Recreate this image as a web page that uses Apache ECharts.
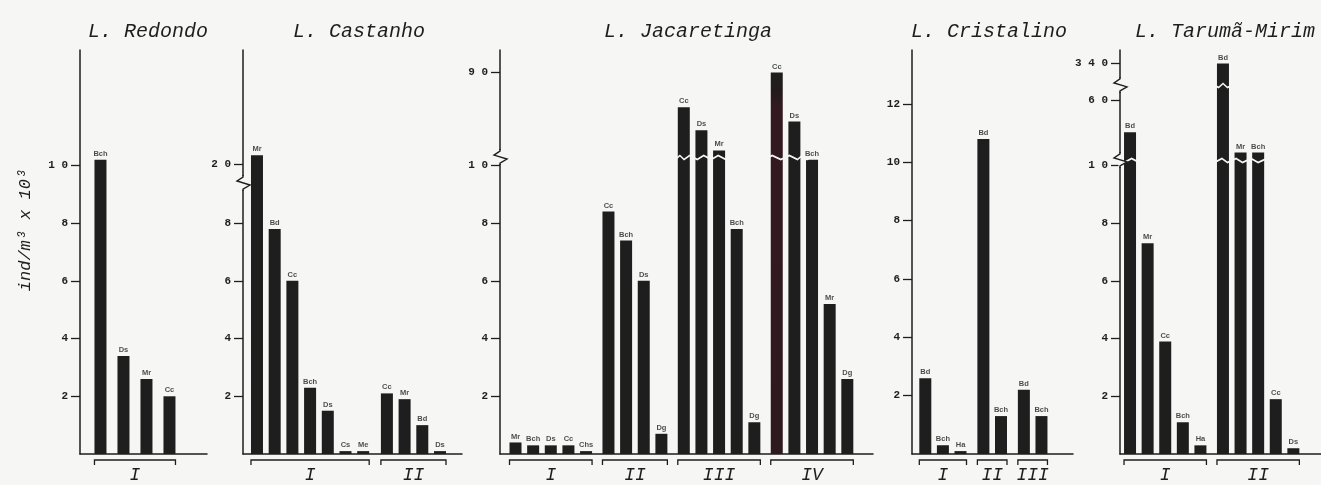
<!DOCTYPE html>
<html><head><meta charset="utf-8">
<script src="https://cdn.jsdelivr.net/npm/echarts@6/dist/echarts.min.js"></script>
<style>html,body{margin:0;padding:0;background:#f6f6f4}#c{width:1321px;height:485px}</style>
</head><body><div id="c"></div>
<script>
// ---------------- DATA ----------------
const redondoGroups = ['I'];
const redondoSpecies = [['Bch', 'Ds', 'Mr', 'Cc']];
const redondoValues = [[10.2, 3.4, 2.6, 2.0]];
const redondoTicks = [2, 4, 6, 8, 10];
const redondoTickLabels = ['2', '4', '6', '8', '1 0'];
const redondoBreaks = [];

const castanhoGroups = ['I', 'II'];
const castanhoSpecies = [['Mr', 'Bd', 'Cc', 'Bch', 'Ds', 'Cs', 'Me'], ['Cc', 'Mr', 'Bd', 'Ds']];
const castanhoValues = [[20.3, 7.8, 6.0, 2.3, 1.5, 0.1, 0.1], [2.1, 1.9, 1.0, 0.1]];
const castanhoTicks = [2, 4, 6, 8, 20];
const castanhoTickLabels = ['2', '4', '6', '8', '2 0'];
const castanhoBreaks = [[9.35, 19.38]];

const jacaretingaGroups = ['I', 'II', 'III', 'IV'];
const jacaretingaSpecies = [['Mr', 'Bch', 'Ds', 'Cc', 'Chs'], ['Cc', 'Bch', 'Ds', 'Dg'], ['Cc', 'Ds', 'Mr', 'Bch', 'Dg'], ['Cc', 'Ds', 'Bch', 'Mr', 'Dg']];
const jacaretingaValues = [[0.4, 0.3, 0.3, 0.3, 0.1], [8.4, 7.4, 6.0, 0.7], [88.8, 88.0, 87.3, 7.8, 1.1], [90.0, 88.3, 10.2, 5.2, 2.6]];
const jacaretingaTicks = [2, 4, 6, 8, 10, 90];
const jacaretingaTickLabels = ['2', '4', '6', '8', '1 0', '9 0'];
const jacaretingaBreaks = [[10.25, 87.11]];

const cristalinoGroups = ['I', 'II', 'III'];
const cristalinoSpecies = [['Bd', 'Bch', 'Ha'], ['Bd', 'Bch'], ['Bd', 'Bch']];
const cristalinoValues = [[2.6, 0.3, 0.1], [10.8, 1.3], [2.2, 1.3]];
const cristalinoTicks = [2, 4, 6, 8, 10, 12];
const cristalinoTickLabels = ['2', '4', '6', '8', '10', '12'];
const cristalinoBreaks = [];

const tarumaGroups = ['I', 'II'];
const tarumaSpecies = [['Bd', 'Mr', 'Cc', 'Bch', 'Ha'], ['Bd', 'Mr', 'Bch', 'Cc', 'Ds']];
const tarumaValues = [[58.9, 7.3, 3.9, 1.1, 0.3], [340.0, 58.2, 58.2, 1.9, 0.2]];
const tarumaTicks = [2, 4, 6, 8, 10, 60, 340];
const tarumaTickLabels = ['2', '4', '6', '8', '1 0', '6 0', '3 4 0'];
const tarumaBreaks = [[10.15, 57.98], [60.5, 339.30]];

const yAxisTitle = 'ind/m³ x 10³';

// ---------------- LAYOUT / STYLE ----------------
const BG = '#f6f6f4';
const INK = '#1e1e1e';
const MONO = '"Liberation Mono", "DejaVu Sans Mono", monospace';
const GAP = 0.08;
const TOP = 50, BASE = 454;

const panels = [
  { title: 'L. Redondo', titleX: 143, groups: redondoGroups, species: redondoSpecies, values: redondoValues,
    ticks: redondoTicks, tickLabels: redondoTickLabels, breaks: redondoBreaks, max: 14,
    left: 80, right: 207, slot: 23, first: 0.89, gap: 0, cut: false },
  { title: 'L. Castanho', titleX: 354, groups: castanhoGroups, species: castanhoSpecies, values: castanhoValues,
    ticks: castanhoTicks, tickLabels: castanhoTickLabels, breaks: castanhoBreaks, max: 23.95,
    left: 243, right: 462, slot: 17.7, first: 0.79, gap: 0.34, cut: false },
  { title: 'L. Jacaretinga', titleX: 683, groups: jacaretingaGroups, species: jacaretingaSpecies, values: jacaretingaValues,
    ticks: jacaretingaTicks, tickLabels: jacaretingaTickLabels, breaks: jacaretingaBreaks, max: 90.78,
    left: 500, right: 873, slot: 17.64, first: 0.879, gap: 0.27, cut: true },
  { title: 'L. Cristalino', titleX: 984, groups: cristalinoGroups, species: cristalinoSpecies, values: cristalinoValues,
    ticks: cristalinoTicks, tickLabels: cristalinoTickLabels, breaks: cristalinoBreaks, max: 13.85,
    left: 912, right: 1073, slot: 17.6, first: 0.756, gap: 0.3, cut: false },
  { title: 'L. Tarumã-Mirim', titleX: 1220, groups: tarumaGroups, species: tarumaSpecies, values: tarumaValues,
    ticks: tarumaTicks, tickLabels: tarumaTickLabels, breaks: tarumaBreaks, max: 340.47,
    left: 1120, right: 1321, slot: 17.6, first: 0.57, gap: 0.28, cut: true }
];

const grid = [], xAxis = [], yAxis = [], series = [], title = [];

panels.forEach((p, pi) => {
  grid.push({ left: p.left, width: p.right - p.left, top: TOP, height: BASE - TOP });
  title.push({ text: p.title, left: p.titleX, top: 17, textAlign: 'center',
    textStyle: { fontFamily: MONO, fontStyle: 'italic', fontWeight: 'normal', fontSize: 20, color: INK } });

  const data = [], names = [], ranges = [];
  let x = p.first;
  p.species.forEach((grp, gi) => {
    const start = x;
    grp.forEach((nm, i) => {
      const item = { value: [x, p.values[gi][i]] };
      // scan tint on the tallest Jacaretinga bar
      if (pi === 2 && gi === 3 && i === 0) {
        item.itemStyle = { color: { type: 'linear', x: 0, y: 0, x2: 0, y2: 1, colorStops: [
          { offset: 0, color: INK }, { offset: 0.05, color: '#241a1c' }, { offset: 0.09, color: '#341a20' }, { offset: 1, color: '#2e191e' }] } };
      }
      data.push(item); names.push(nm);
      x += 1;
    });
    ranges.push([start, x - 1, 0, gi]);
    x += p.gap;
  });

  xAxis.push({ type: 'value', gridIndex: pi, min: 0, max: (p.right - p.left) / p.slot,
    axisLine: { show: true, onZero: false, lineStyle: { color: INK, width: 1.5 } },
    axisTick: { show: false }, axisLabel: { show: false }, splitLine: { show: false } });

  const ya = { type: 'value', gridIndex: pi, min: 0, max: p.max,
    axisLine: { show: true, lineStyle: { color: INK, width: 1.5 } },
    axisTick: { show: true, length: 9, customValues: p.ticks, lineStyle: { color: INK, width: 1.3 } },
    axisLabel: { show: true, customValues: p.ticks, margin: 12, fontFamily: MONO, fontSize: 11, fontWeight: 'bold', color: INK,
      formatter: v => { const k = p.ticks.indexOf(v); return k >= 0 ? p.tickLabels[k] : ''; } },
    splitLine: { show: false } };
  if (p.breaks.length) {
    ya.breaks = p.breaks.map(b => ({ start: b[0], end: b[1], gap: GAP }));
    ya.breakArea = { show: true, itemStyle: { color: BG, borderColor: BG, borderWidth: 0, opacity: p.cut ? 1 : 0 },
      zigzagAmplitude: 2, zigzagMinSpan: 4, zigzagMaxSpan: 9, zigzagZ: 100, expandOnClick: false };
  }
  if (pi === 0) {
    ya.name = yAxisTitle; ya.nameLocation = 'middle'; ya.nameRotate = 90; ya.nameGap = 46;
    ya.nameTextStyle = { fontFamily: MONO, fontStyle: 'italic', fontSize: 17, color: INK, padding: [0, 0, 0, 44] };
  }
  yAxis.push(ya);

  series.push({ type: 'bar', xAxisIndex: pi, yAxisIndex: pi, barWidth: 12, data: data,
    itemStyle: { color: INK }, silent: true, label: { show: false } });

  // species codes above the bars, kept above the break band
  series.push({ type: 'scatter', xAxisIndex: pi, yAxisIndex: pi, symbolSize: 0, silent: true, z: 200,
    data: data.map(d => d.value),
    label: { show: true, position: 'top', distance: 2, fontFamily: '"Liberation Sans", Arial, sans-serif', fontSize: 7.5, fontWeight: 'bold', color: INK,
      formatter: prm => names[prm.dataIndex] } });

  // group brackets under the axis
  const half = 6;
  series.push({ type: 'custom', xAxisIndex: pi, yAxisIndex: pi, clip: false, silent: true, z: 5,
    data: ranges, encode: { x: [0, 1], y: 2 },
    renderItem: (params, api) => {
      const a = api.coord([api.value(0), 0]);
      const b = api.coord([api.value(1), 0]);
      const x0 = a[0] - half, x1 = b[0] + half, y = a[1];
      const gName = p.groups[api.value(3)];
      return { type: 'group', children: [
        { type: 'polyline', shape: { points: [[x0, y + 11], [x0, y + 6], [x1, y + 6], [x1, y + 11]] },
          style: { stroke: INK, lineWidth: 1.3, fill: null } },
        { type: 'text', style: { text: gName, x: (x0 + x1) / 2, y: y + 21, align: 'center', verticalAlign: 'middle',
          font: 'italic 18px ' + MONO, fill: INK } }
      ] };
    } });

  // zigzag break symbol on the value axis line
  if (p.breaks.length) {
    series.push({ type: 'custom', xAxisIndex: pi, yAxisIndex: pi, clip: false, silent: true, z: 300,
      data: p.breaks.map(b => [0, b[0], b[1]]), encode: { x: 0, y: [1, 2] },
      renderItem: (params, api) => {
        const s = api.coord([0, api.value(1)]);
        const e = api.coord([0, api.value(2)]);
        const x = s[0], m = (s[1] + e[1]) / 2;
        return { type: 'group', children: [
          { type: 'rect', shape: { x: x - 1.5, y: m - 7, width: 3, height: 14 }, style: { fill: BG } },
          { type: 'polyline', shape: { points: [[x, m - 8], [x, m - 6], [x - 6, m - 2], [x + 7, m + 2], [x, m + 6], [x, m + 8]] },
            style: { stroke: INK, lineWidth: 1.4, fill: null } }
        ] };
      } });
  }
});

const chart = echarts.init(document.getElementById('c'), null, { renderer: 'canvas' });
chart.setOption({ backgroundColor: BG, animation: false, title, grid, xAxis, yAxis, series });
</script></body></html>
